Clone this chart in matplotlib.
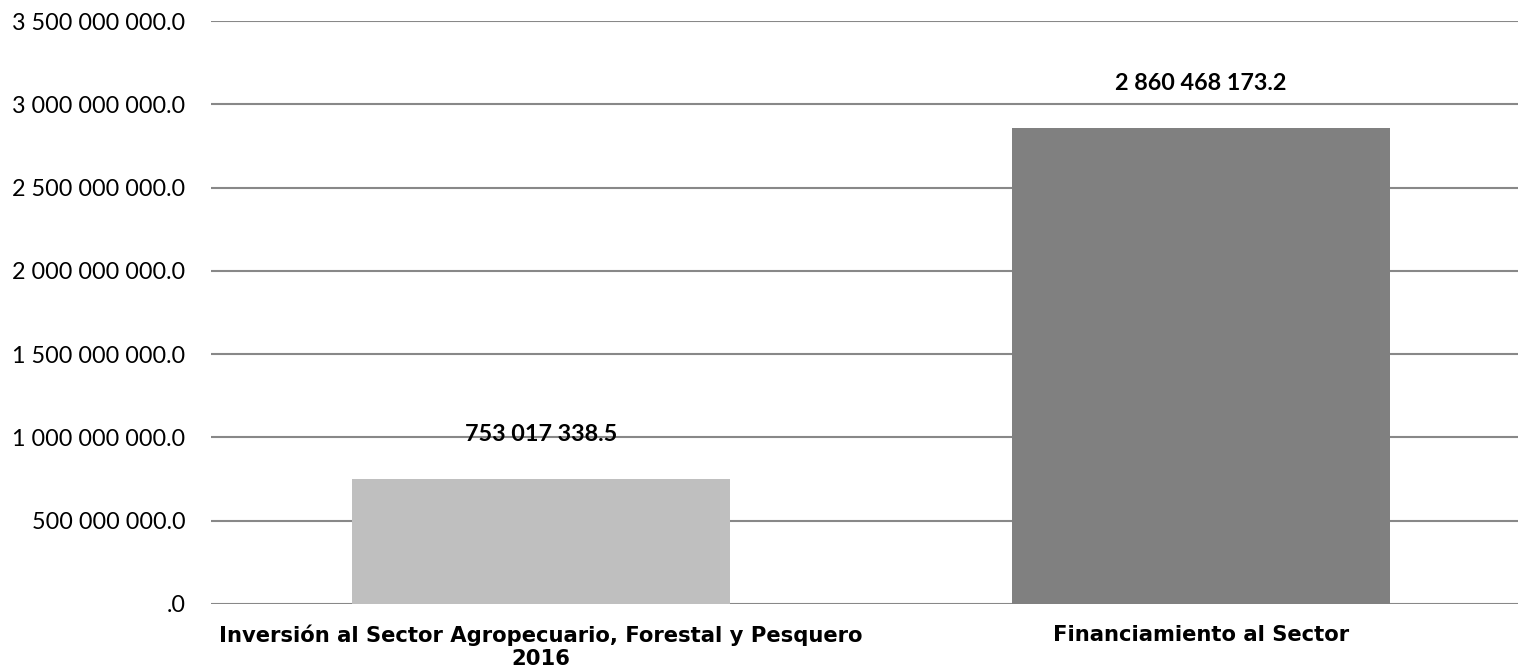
import matplotlib.pyplot as plt
from matplotlib.ticker import FuncFormatter

categories = ["Inversión al Sector Agropecuario, Forestal y Pesquero\n2016",
              "Financiamiento al Sector"]
values = [753017338.5, 2860468173.2]
colors = ["#BFBFBF", "#808080"]


def fmt(v, pos=None):
    """Space as thousands separator, one decimal"""
    if v == 0:
        return ".0"
    return f"{v:,.1f}".replace(",", " ")


def main():
    fig = plt.figure(figsize=(15.18, 6.68), dpi=100)
    ax = fig.add_axes([211 / 1518, 64 / 668, 1320 / 1518, 583 / 668])
    x = range(len(categories))
    bars = ax.bar(x, values, width=0.573, color=colors, zorder=3)
    ax.set_xlim(-0.5, 1.5)
    ax.set_ylim(0, 3500000000)
    ax.set_yticks(range(0, 3500000001, 500000000))
    ax.yaxis.set_major_formatter(FuncFormatter(fmt))
    ax.grid(axis="y", color="#888888", linewidth=1.5, zorder=0)
    for s in ax.spines.values():
        s.set_visible(False)
    ax.tick_params(axis="y", length=0, pad=18.5, labelsize=16.8)
    ax.tick_params(axis="x", length=0, pad=15)
    for lab in ax.get_yticklabels():
        lab.set_fontfamily("Lato")
    ax.set_xticks(list(x))
    ax.set_xticklabels(categories, fontsize=15.2, fontweight="bold",
                       fontfamily="DejaVu Sans", linespacing=1.15)
    for b, v in zip(bars, values):
        ax.annotate(fmt(v), (b.get_x() + b.get_width() / 2, v),
                    xytext=(0, 24), textcoords="offset points",
                    ha="center", va="bottom", fontsize=16.8,
                    fontweight="bold", fontfamily="Lato")
    fig.savefig("out.png", dpi=100)


if __name__ == "__main__":
    main()
